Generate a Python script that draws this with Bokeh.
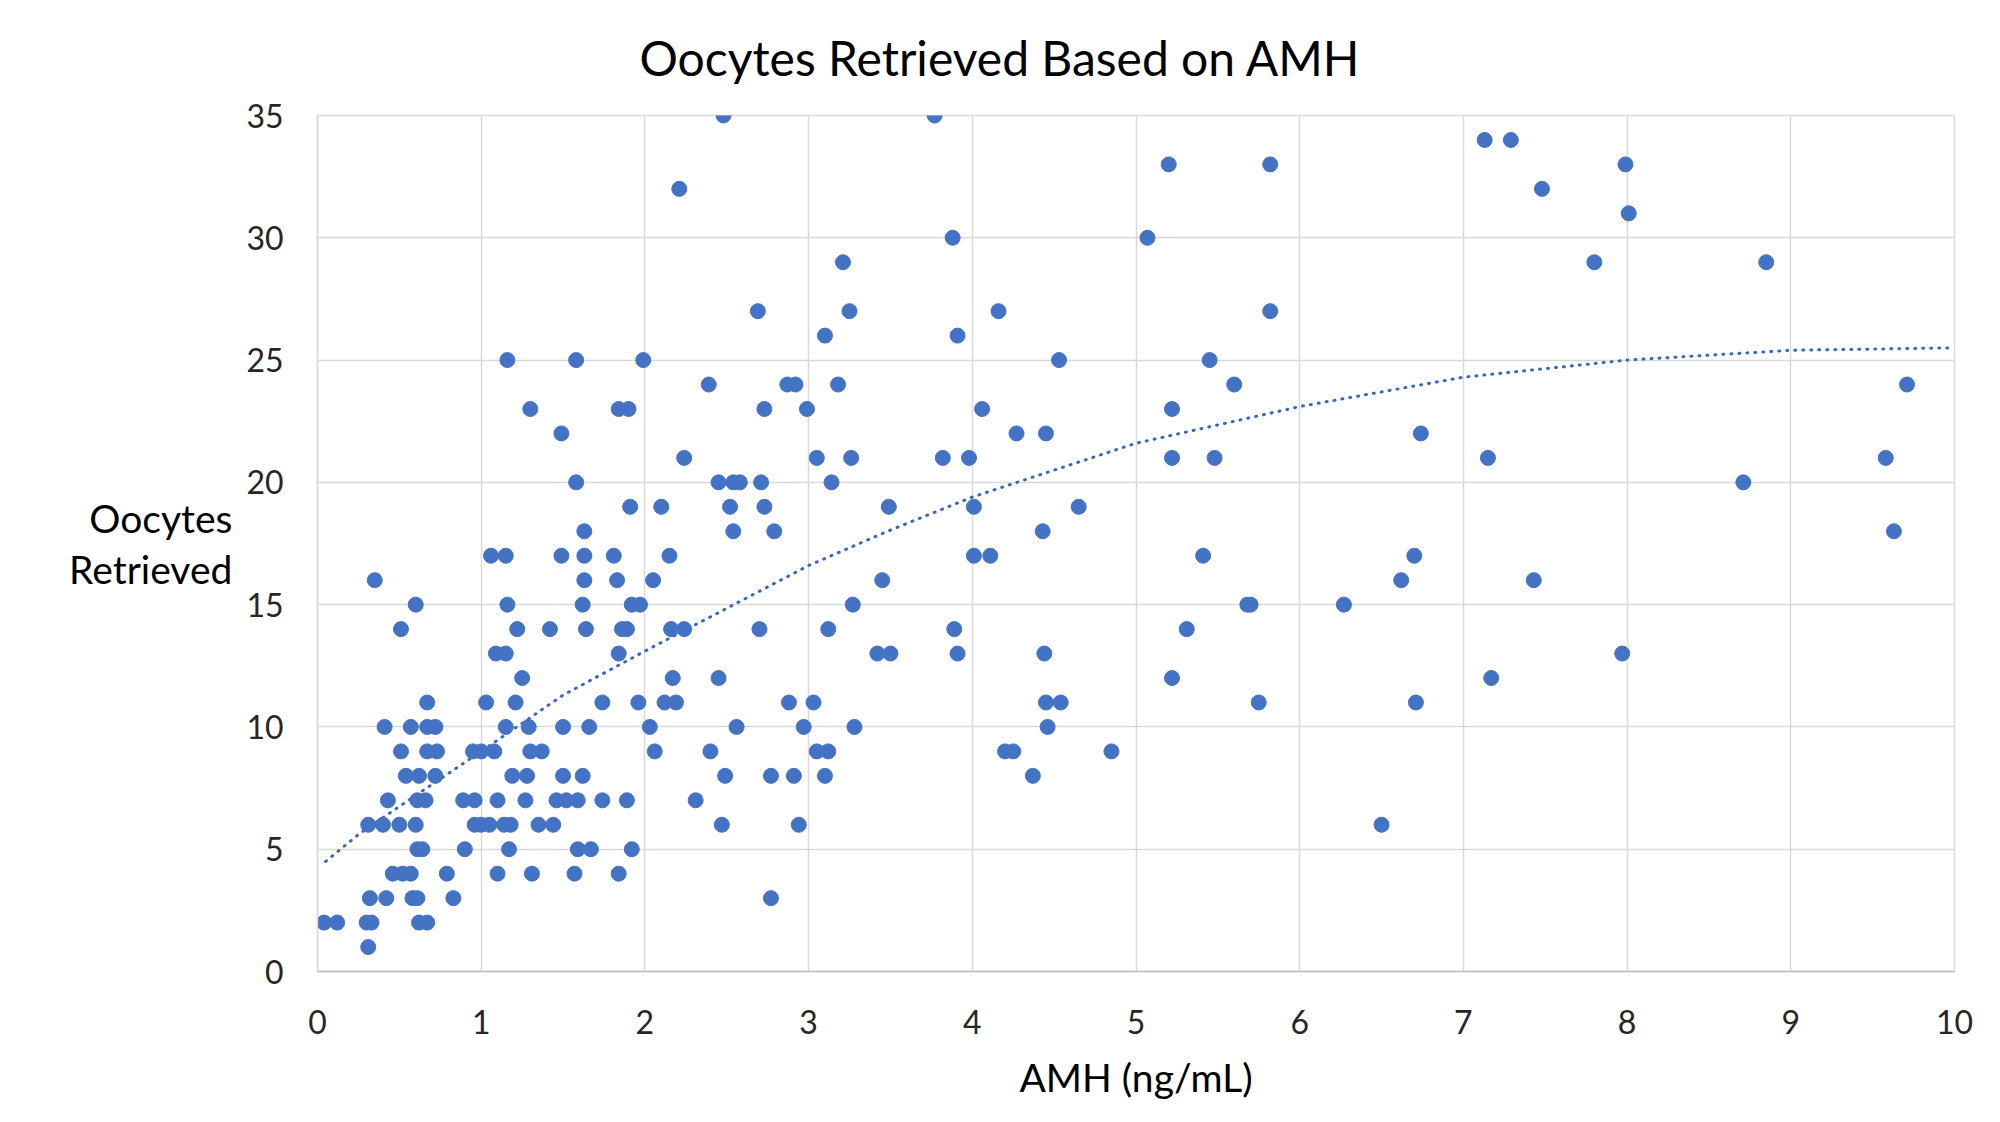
from bokeh.embed import file_html
from bokeh.models import Range1d, SingleIntervalTicker
from bokeh.plotting import figure
from bokeh.resources import INLINE

# AMH (ng/mL) of each patient, grouped by number of oocytes retrieved
amh = [
    0.31,                                                              # 1
    0.04, 0.12, 0.30, 0.33, 0.62, 0.67,                                # 2
    0.32, 0.42, 0.58, 0.61, 0.83, 2.77,                                # 3
    0.46, 0.52, 0.57, 0.79, 1.10, 1.31, 1.57, 1.84,                    # 4
    0.61, 0.64, 0.90, 1.17, 1.59, 1.67, 1.92,                          # 5
    0.31, 0.40, 0.50, 0.60, 0.96, 1.00, 1.05, 1.14, 1.18, 1.35, 1.44,
    2.47, 2.94, 6.50,                                                  # 6
    0.43, 0.61, 0.66, 0.89, 0.96, 1.10, 1.27, 1.46, 1.52, 1.59, 1.74,
    1.89, 2.31,                                                        # 7
    0.54, 0.62, 0.72, 1.19, 1.28, 1.50, 1.62, 2.49, 2.77, 2.91, 3.10,
    4.37,                                                              # 8
    0.51, 0.67, 0.73, 0.95, 1.00, 1.08, 1.30, 1.37, 2.06, 2.40, 3.05,
    3.12, 4.20, 4.25, 4.85,                                            # 9
    0.41, 0.57, 0.67, 0.72, 1.15, 1.29, 1.50, 1.66, 2.03, 2.56, 2.97,
    3.28, 4.46,                                                        # 10
    0.67, 1.03, 1.21, 1.74, 1.96, 2.12, 2.19, 2.88, 3.03, 4.45, 4.54,
    5.75, 6.71,                                                        # 11
    1.25, 2.17, 2.45, 5.22, 7.17,                                      # 12
    1.09, 1.15, 1.84, 3.42, 3.50, 3.91, 4.44, 7.97,                    # 13
    0.51, 1.22, 1.42, 1.64, 1.86, 1.89, 2.16, 2.24, 2.70, 3.12, 3.89,
    5.31,                                                              # 14
    0.60, 1.16, 1.62, 1.92, 1.97, 3.27, 5.68, 5.70, 6.27,              # 15
    0.35, 1.63, 1.83, 2.05, 3.45, 6.62, 7.43,                          # 16
    1.06, 1.15, 1.49, 1.63, 1.81, 2.15, 4.01, 4.11, 5.41, 6.70,        # 17
    1.63, 2.54, 2.79, 4.43, 9.63,                                      # 18
    1.91, 2.10, 2.52, 2.73, 3.49, 4.01, 4.65,                          # 19
    1.58, 2.45, 2.54, 2.58, 2.71, 3.14, 8.71,                          # 20
    2.24, 3.05, 3.26, 3.82, 3.98, 5.22, 5.48, 7.15, 9.58,              # 21
    1.49, 4.27, 4.45, 6.74,                                            # 22
    1.30, 1.84, 1.90, 2.73, 2.99, 4.06, 5.22,                          # 23
    2.39, 2.87, 2.92, 3.18, 5.60, 9.71,                                # 24
    1.16, 1.58, 1.99, 4.53, 5.45,                                      # 25
    3.10, 3.91,                                                        # 26
    2.69, 3.25, 4.16, 5.82,                                            # 27
    3.21, 7.80, 8.85,                                                  # 29
    3.88, 5.07,                                                        # 30
    8.01,                                                              # 31
    2.21, 7.48,                                                        # 32
    5.20, 5.82, 7.99,                                                  # 33
    7.13, 7.29,                                                        # 34
    2.48, 3.77,                                                        # 35
]

oocytes = [
    1,
    2, 2, 2, 2, 2, 2,
    3, 3, 3, 3, 3, 3,
    4, 4, 4, 4, 4, 4, 4, 4,
    5, 5, 5, 5, 5, 5, 5,
    6, 6, 6, 6, 6, 6, 6, 6, 6, 6, 6,
    6, 6, 6,
    7, 7, 7, 7, 7, 7, 7, 7, 7, 7, 7,
    7, 7,
    8, 8, 8, 8, 8, 8, 8, 8, 8, 8, 8,
    8,
    9, 9, 9, 9, 9, 9, 9, 9, 9, 9, 9,
    9, 9, 9, 9,
    10, 10, 10, 10, 10, 10, 10, 10, 10, 10, 10,
    10, 10,
    11, 11, 11, 11, 11, 11, 11, 11, 11, 11, 11,
    11, 11,
    12, 12, 12, 12, 12,
    13, 13, 13, 13, 13, 13, 13, 13,
    14, 14, 14, 14, 14, 14, 14, 14, 14, 14, 14,
    14,
    15, 15, 15, 15, 15, 15, 15, 15, 15,
    16, 16, 16, 16, 16, 16, 16,
    17, 17, 17, 17, 17, 17, 17, 17, 17, 17,
    18, 18, 18, 18, 18,
    19, 19, 19, 19, 19, 19, 19,
    20, 20, 20, 20, 20, 20, 20,
    21, 21, 21, 21, 21, 21, 21, 21, 21,
    22, 22, 22, 22,
    23, 23, 23, 23, 23, 23, 23,
    24, 24, 24, 24, 24, 24,
    25, 25, 25, 25, 25,
    26, 26,
    27, 27, 27, 27,
    29, 29, 29,
    30, 30,
    31,
    32, 32,
    33, 33, 33,
    34, 34,
    35, 35,
]

# dotted trendline
trend_x = [0.05, 0.25, 0.5, 1.0, 1.5, 2.0, 3.0, 3.5, 4.0, 5.0, 6.0, 7.0, 8.0, 9.0, 10.0]
trend_y = [4.5, 5.6, 6.75, 9.0, 11.3, 13.1, 16.6, 18.05, 19.4, 21.6, 23.1, 24.3, 25.0, 25.4, 25.5]

FONT = "Lato"
BLUE = "#4472C4"
GRID = "#d9d9d9"

p = figure(frame_width=1637, frame_height=856, min_border_left=317,
           min_border_top=114, min_border_right=30, min_border_bottom=120,
           x_range=Range1d(0, 10), y_range=Range1d(0, 35),
           title="Oocytes Retrieved Based on AMH",
           output_backend="svg", toolbar_location=None,
           background_fill_color="white", border_fill_color="white")
p.outline_line_color = GRID
p.outline_line_width = 1.5

p.title.text_font = FONT
p.title.text_font_size = "48px"
p.title.text_font_style = "normal"
p.title.text_color = "#000000"
p.title.align = "left"
p.title.offset = 322
p.title.vertical_align = "top"
p.title.standoff = 56

p.xaxis.ticker = SingleIntervalTicker(interval=1, num_minor_ticks=0)
p.yaxis.ticker = SingleIntervalTicker(interval=5, num_minor_ticks=0)
for ax in (p.xaxis, p.yaxis):
    ax.axis_line_color = "#bfbfbf"
    ax.axis_line_width = 1.5
    ax.major_tick_line_color = None
    ax.minor_tick_line_color = None
    ax.major_tick_out = 0
    ax.major_label_text_font = FONT
    ax.major_label_text_font_size = "32px"
    ax.major_label_text_color = "#262626"
    ax.axis_label_text_font = FONT
    ax.axis_label_text_font_style = "normal"
    ax.axis_label_text_font_size = "39px"
    ax.axis_label_text_color = "#000000"
p.yaxis.axis_line_color = GRID
p.xaxis.major_label_standoff = 38
p.yaxis.major_label_standoff = 34

p.xaxis.axis_label = "AMH (ng/mL)"
p.xaxis.axis_label_standoff = 17
p.yaxis.axis_label = "Oocytes\nRetrieved"
p.yaxis.axis_label_orientation = "horizontal"
p.yaxis.axis_label_text_align = "center"
p.yaxis.axis_label_text_line_height = 1.12
p.yaxis.axis_label_standoff = 11

p.grid.grid_line_color = GRID
p.grid.grid_line_width = 1.5

p.line(trend_x, trend_y, line_color="#3B68B5", line_width=3,
       line_dash="1 7", line_cap="round")
p.scatter(amh, oocytes, size=15, fill_color=BLUE, line_color=BLUE)

open("out.html", "w").write(file_html(p, INLINE))
